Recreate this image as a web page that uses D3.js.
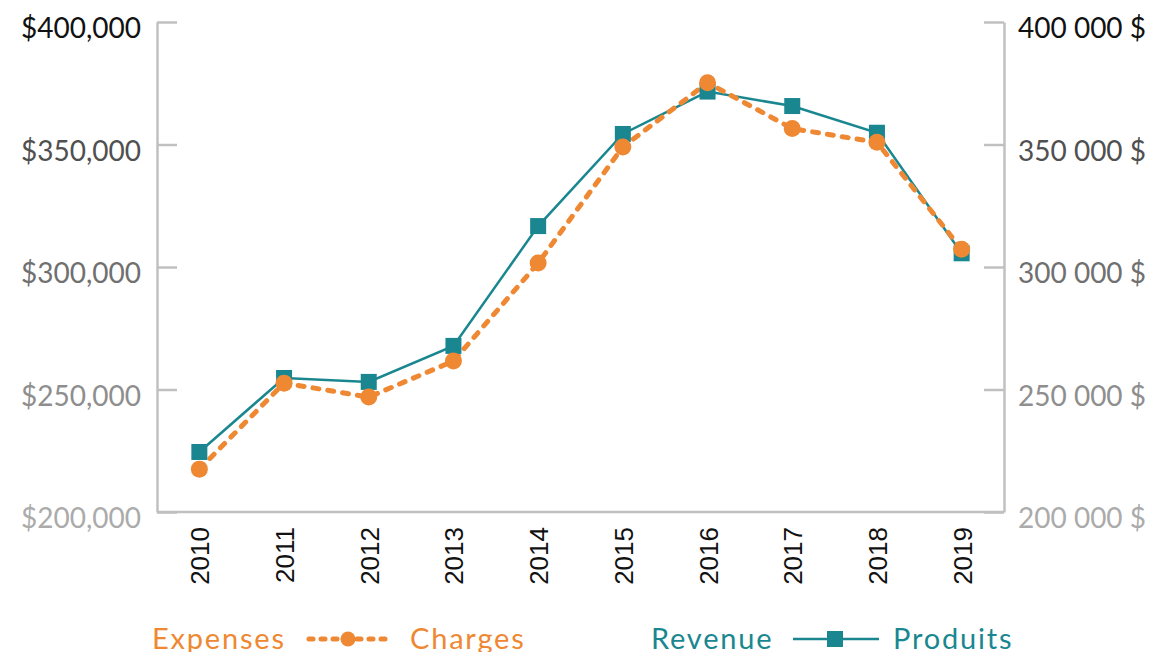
<!DOCTYPE html>
<html>
<head>
<meta charset="utf-8">
<script src="https://cdn.jsdelivr.net/npm/d3@7"></script>
<style>
  body { margin: 0; background: #fff; }
  svg { display: block; }
  text { font-family: Lato, "Open Sans", sans-serif; }
</style>
</head>
<body>
<script>
// chart data
var years = ["2010", "2011", "2012", "2013", "2014", "2015", "2016", "2017", "2018", "2019"];
var revenue = [224500, 254700, 253100, 267800, 316700, 354300, 371600, 365700, 354800, 305600];
var expenses = [217500, 252600, 246900, 261600, 301600, 349000, 375200, 356500, 350900, 307200];
var yTicks = [200000, 250000, 300000, 350000, 400000];
var tickColors = ["#ababab", "#8e8e8e", "#707070", "#505050", "#111111"];

var W = 1156, H = 652;
var mLeft = 157, mRight = 1004, mTop = 22, mBottom = 512;
var teal = "#1a8790", orange = "#ee8833", axisGray = "#c0c0c0";

var svg = d3.select("body").append("svg")
    .attr("width", W)
    .attr("height", H);

var x = d3.scalePoint().domain(years).range([mLeft, mRight]).padding(0.5);
var y = d3.scaleLinear().domain([200000, 400000]).range([mBottom, mTop]);

var fmtL = d3.format("$,");
var fmtR = function(v) { return d3.format(",")(v).replace(/,/g, " ") + " $"; };

// left axis
var gl = svg.append("g").attr("transform", "translate(" + mLeft + ",0)")
    .call(d3.axisRight(y).tickValues(yTicks).tickSize(20).tickSizeOuter(0).tickFormat(""));
// right axis
var gr = svg.append("g").attr("transform", "translate(" + mRight + ",0)")
    .call(d3.axisLeft(y).tickValues(yTicks).tickSize(20).tickSizeOuter(0).tickFormat(""));
[gl, gr].forEach(function(g) {
  g.select(".domain").attr("stroke", axisGray).attr("stroke-width", 2.5);
  g.selectAll(".tick line").attr("stroke", axisGray).attr("stroke-width", 2.5);
});

// bottom line
var gb = svg.append("g").attr("transform", "translate(0," + mBottom + ")")
    .call(d3.axisBottom(x).tickSize(0).tickFormat(""));
gb.select(".domain").attr("stroke", axisGray).attr("stroke-width", 2.5)
    .attr("d", "M" + mLeft + ",0H" + mRight);

// y labels on both sides
svg.selectAll(".ylab-l").data(yTicks).enter().append("text")
    .attr("x", 141)
    .attr("y", function(d) { return y(d) + 5; })
    .attr("text-anchor", "end")
    .attr("dominant-baseline", "central")
    .attr("font-size", 28)
    .attr("fill", function(d, i) { return tickColors[i]; })
    .text(fmtL);

svg.selectAll(".ylab-r").data(yTicks).enter().append("text")
    .attr("x", 1018)
    .attr("y", function(d) { return y(d) + 5; })
    .attr("text-anchor", "start")
    .attr("dominant-baseline", "central")
    .attr("font-size", 28)
    .attr("fill", function(d, i) { return tickColors[i]; })
    .text(fmtR);

// year labels, rotated
svg.selectAll(".xlab").data(years).enter().append("text")
    .attr("transform", function(d) { return "translate(" + (x(d) + 1) + ",527) rotate(-90)"; })
    .attr("text-anchor", "end")
    .attr("dominant-baseline", "central")
    .style("font-family", "'Liberation Sans', Arial, sans-serif")
    .attr("font-size", 26)
    .attr("fill", "#111")
    .text(function(d) { return d; });

// lines
var line = function(vals) {
  return d3.line()
    .x(function(d, i) { return x(years[i]); })
    .y(function(d) { return y(d); })(vals);
};

svg.append("path").attr("d", line(revenue))
    .attr("fill", "none").attr("stroke", teal).attr("stroke-width", 2.5);

svg.append("path").attr("d", line(expenses))
    .attr("fill", "none").attr("stroke", orange).attr("stroke-width", 5)
    .attr("stroke-dasharray", "6,9").attr("stroke-linecap", "round");

// markers
svg.selectAll(".sq").data(revenue).enter().append("rect")
    .attr("x", function(d, i) { return x(years[i]) - 8; })
    .attr("y", function(d) { return y(d) - 8; })
    .attr("width", 16).attr("height", 16)
    .attr("fill", teal);

svg.selectAll(".dot").data(expenses).enter().append("circle")
    .attr("cx", function(d, i) { return x(years[i]); })
    .attr("cy", function(d) { return y(d); })
    .attr("r", 8.5)
    .attr("fill", orange);

// legend
var ly = 637;
var leg = svg.append("g").attr("font-size", 29).attr("letter-spacing", 1.8);
leg.append("text").attr("x", 152).attr("y", ly).attr("dominant-baseline", "central")
    .attr("fill", orange).text("Expenses");
leg.append("line").attr("x1", 309).attr("x2", 393).attr("y1", ly + 2).attr("y2", ly + 2)
    .attr("stroke", orange).attr("stroke-width", 5)
    .attr("stroke-dasharray", "4,8").attr("stroke-linecap", "round");
leg.append("circle").attr("cx", 348).attr("cy", ly + 2).attr("r", 7.5).attr("fill", orange);
leg.append("text").attr("x", 410).attr("y", ly).attr("dominant-baseline", "central")
    .attr("fill", orange).text("Charges");

leg.append("text").attr("x", 651).attr("y", ly).attr("dominant-baseline", "central")
    .attr("fill", teal).text("Revenue");
leg.append("line").attr("x1", 793).attr("x2", 879).attr("y1", ly + 2).attr("y2", ly + 2)
    .attr("stroke", teal).attr("stroke-width", 2.5);
leg.append("rect").attr("x", 827).attr("y", ly + 2 - 8).attr("width", 16).attr("height", 16)
    .attr("fill", teal);
leg.append("text").attr("x", 893).attr("y", ly).attr("dominant-baseline", "central")
    .attr("fill", teal).text("Produits");
</script>
</body>
</html>
